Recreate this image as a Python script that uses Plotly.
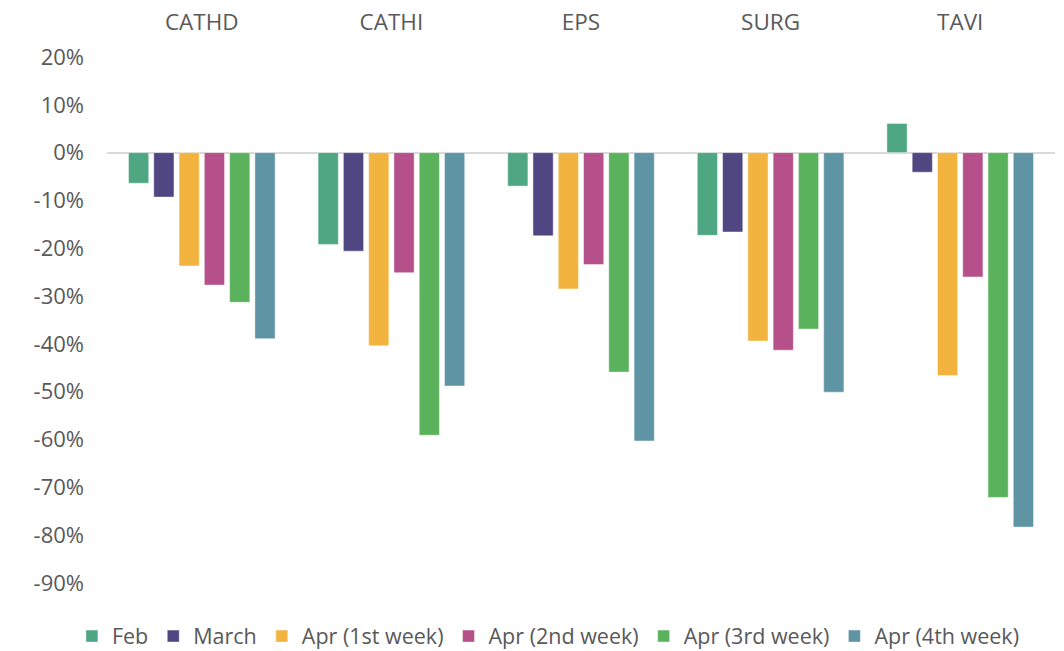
import plotly.graph_objects as go

categories = ["CATHD", "CATHI", "EPS", "SURG", "TAVI"]
series_names = ["Feb", "March", "Apr (1st week)", "Apr (2nd week)", "Apr (3rd week)", "Apr (4th week)"]
feb = [-0.064, -0.192, -0.070, -0.173, 0.061]
march = [-0.093, -0.206, -0.174, -0.166, -0.041]
apr1 = [-0.237, -0.404, -0.285, -0.394, -0.466]
apr2 = [-0.277, -0.251, -0.234, -0.413, -0.260]
apr3 = [-0.313, -0.591, -0.459, -0.369, -0.721]
apr4 = [-0.389, -0.488, -0.603, -0.501, -0.783]
colors = ["#4fa683", "#504782", "#f2b43f", "#b5508a", "#5bb25d", "#5e94a4"]
tick_vals = [0.2, 0.1, 0.0, -0.1, -0.2, -0.3, -0.4, -0.5, -0.6, -0.7, -0.8, -0.9]
tick_text = ["20%", "10%", "0%", "-10%", "-20%", "-30%", "-40%", "-50%", "-60%", "-70%", "-80%", "-90%"]

all_values = [feb, march, apr1, apr2, apr3, apr4]

fig = go.Figure()
for name, vals, col in zip(series_names, all_values, colors):
    fig.add_trace(go.Bar(
        x=categories, y=vals, name=name,
        marker=dict(color=col, line=dict(color="rgba(255,255,255,0.45)", width=1)),
    ))

fig.update_layout(
    barmode="group",
    bargap=0.2,
    bargroupgap=0.2,
    width=1064, height=651,
    margin=dict(l=99, r=17, t=49, b=76, autoexpand=False),
    plot_bgcolor="white", paper_bgcolor="white",
    font=dict(family="Open Sans", size=22, color="#595959"),
    legend=dict(orientation="h", x=-0.037, xanchor="left", y=-0.062, yanchor="top",
                font=dict(size=21.5, color="#595959"), itemwidth=30, traceorder="normal"),
    xaxis=dict(side="top", showline=False, showgrid=False, ticks="", ticklabelstandoff=22,
               automargin=True, tickfont=dict(size=22.5, color="#595959")),
    yaxis=dict(range=[-0.9, 0.2], tickvals=tick_vals, ticktext=tick_text, showgrid=False,
               zeroline=True, zerolinecolor="#d9d9d9", zerolinewidth=2, showline=False,
               automargin=False, ticks="", ticklabelstandoff=22,
               tickfont=dict(size=22, color="#595959")),
)

fig.write_html("out.html")
